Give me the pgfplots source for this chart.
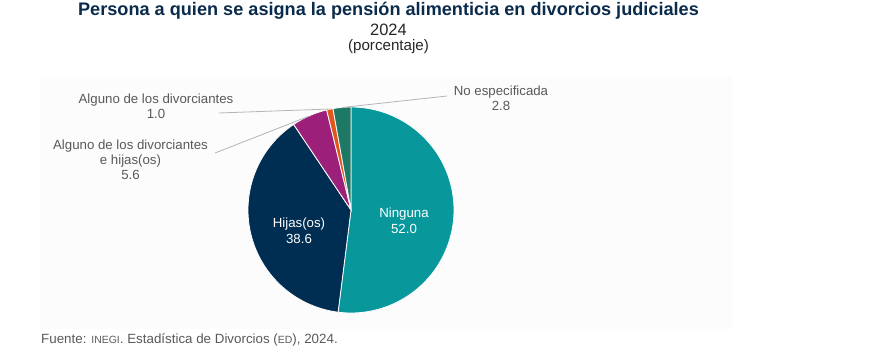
\documentclass[border=0pt]{standalone}
\usepackage{pgfplots}
\pgfplotsset{compat=1.18}
\usepackage{fontspec}
\setmainfont{Liberation Sans}
\definecolor{cNin}{HTML}{08989C}
\definecolor{cHij}{HTML}{002D52}
\definecolor{cAlgH}{HTML}{9C1F7A}
\definecolor{cAlg}{HTML}{E0561B}
\definecolor{cNoE}{HTML}{1E7866}
\definecolor{cTitle}{HTML}{0A2B4C}
\definecolor{cLab}{HTML}{595959}
\definecolor{cLine}{HTML}{B4B4B4}
\definecolor{cBg}{HTML}{FCFCFC}
\begin{document}
\begin{tikzpicture}
\path[use as bounding box] (0,0) rectangle (870bp,354bp);
\begin{axis}[
  width=870bp, height=354bp, scale only axis, hide axis,
  xmin=0, xmax=870, ymin=0, ymax=354, y dir=reverse,
  clip=false, at={(0,0)}, anchor=south west,
]
% background panel
\addplot[draw=none, fill=cBg] coordinates {(40,77) (732,77) (732,329) (40,329)} -- cycle;
% pie slices (percent values: 52.0, 38.6, 5.6, 1.0, 2.8), clockwise from top
\addplot[fill=cNin, draw=white, line width=0.8pt, domain={90-3.6*(52.0)}:90, samples=160, variable=\t]
  ({351+103*cos(\t)},{210-103*sin(\t)}) -- (axis cs:351,210) -- cycle;
\addplot[fill=cHij, draw=white, line width=0.8pt, domain={90-3.6*(52.0+38.6)}:{90-3.6*(52.0)}, samples=120, variable=\t]
  ({351+103*cos(\t)},{210-103*sin(\t)}) -- (axis cs:351,210) -- cycle;
\addplot[fill=cAlgH, draw=white, line width=0.8pt, domain={90-3.6*(52.0+38.6+5.6)}:{90-3.6*(52.0+38.6)}, samples=30, variable=\t]
  ({351+103*cos(\t)},{210-103*sin(\t)}) -- (axis cs:351,210) -- cycle;
\addplot[fill=cAlg, draw=white, line width=0.8pt, domain={90-3.6*(52.0+38.6+5.6+1.0)}:{90-3.6*(52.0+38.6+5.6)}, samples=10, variable=\t]
  ({351+103*cos(\t)},{210-103*sin(\t)}) -- (axis cs:351,210) -- cycle;
\addplot[fill=cNoE, draw=white, line width=0.8pt, domain={90-3.6*(52.0+38.6+5.6+1.0+2.8)}:{90-3.6*(52.0+38.6+5.6+1.0)}, samples=15, variable=\t]
  ({351+103*cos(\t)},{210-103*sin(\t)}) -- (axis cs:351,210) -- cycle;
% leader lines
\addplot[cLine, line width=0.8pt, no marks] coordinates {(342,107.5) (447,96)};
\addplot[cLine, line width=0.8pt, no marks] coordinates {(330,109) (219,113)};
\addplot[cLine, line width=0.8pt, no marks] coordinates {(309.5,116) (215,153)};
% titles
\node[text=cTitle, font=\fontsize{18.2}{21}\selectfont\bfseries] at (axis cs:388.5,11) {Persona a quien se asigna la pensión alimenticia en divorcios judiciales};
\node[text=black!85, font=\fontsize{16.5}{19}\selectfont] at (axis cs:388.5,30) {2024};
\node[text=black!85, font=\fontsize{15.2}{18}\selectfont] at (axis cs:388.5,47) {(porcentaje)};
% labels
\node[text=white, align=center, font=\fontsize{13.3}{16}\selectfont] at (axis cs:404,221) {Ninguna\\52.0};
\node[text=white, align=center, font=\fontsize{13.3}{16}\selectfont] at (axis cs:299,231) {Hijas(os)\\38.6};
\node[text=cLab, align=center, font=\fontsize{13.3}{15}\selectfont] at (axis cs:501,98) {No especificada\\2.8};
\node[text=cLab, align=center, font=\fontsize{13.3}{15}\selectfont] at (axis cs:156,106.5) {Alguno de los divorciantes\\1.0};
\node[text=cLab, align=center, font=\fontsize{13.3}{15}\selectfont] at (axis cs:130.5,160) {Alguno de los divorciantes\\e hijas(os)\\5.6};
% source
\node[text=cLab, anchor=west, inner xsep=0pt, font=\fontsize{13.4}{15}\selectfont] at (axis cs:41,340) {Fuente: {\fontsize{10.5}{12}\selectfont INEGI}. Estadística de Divorcios ({\fontsize{10.5}{12}\selectfont ED}), 2024.};
\end{axis}
\end{tikzpicture}
\end{document}
